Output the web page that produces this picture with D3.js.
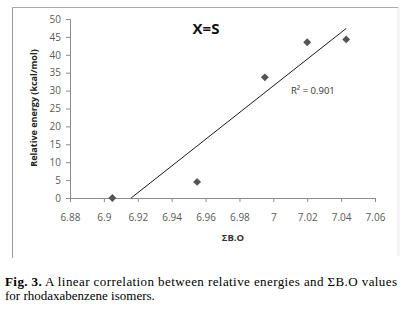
<!DOCTYPE html>
<html><head><meta charset="utf-8">
<script src="https://cdn.jsdelivr.net/npm/d3@7"></script>
<style>body{margin:0;background:#fff}svg{display:block}</style>
</head><body>
<script>
const xValues = [6.905, 6.955, 6.995, 7.020, 7.043];
const yValues = [0, 4.5, 33.7, 43.5, 44.3];
const xTicks = [6.88, 6.9, 6.92, 6.94, 6.96, 6.98, 7, 7.02, 7.04, 7.06];
const yTicks = [0, 5, 10, 15, 20, 25, 30, 35, 40, 45, 50];
const chartTitle = "X=S";
const xTitle = "ΣB.O";
const yTitle = "Relative energy (kcal/mol)";
const r2Label = "R² = 0.901";

const W = 410, H = 309;
const svg = d3.select("body").append("svg").attr("width", W).attr("height", H);

// frame
svg.append("rect").attr("x", 397).attr("y", 7).attr("width", 3).attr("height", 249).attr("fill", "#f4f4f4");
svg.append("line").attr("x1", 12.5).attr("x2", 12.5).attr("y1", 7).attr("y2", 258).attr("stroke", "#999");
svg.append("line").attr("x1", 12).attr("x2", 398).attr("y1", 7.5).attr("y2", 7.5).attr("stroke", "#aaa");

const x = d3.scaleLinear().domain([6.88, 7.06]).range([70, 375]);
const y = d3.scaleLinear().domain([0, 50]).range([198, 19]);

const gx = svg.append("g").attr("transform", "translate(0,198)")
  .call(d3.axisBottom(x).tickValues(xTicks).tickFormat(d => String(+d.toFixed(2))).tickSizeOuter(0).tickSize(4));
const gy = svg.append("g").attr("transform", "translate(70,0)")
  .call(d3.axisLeft(y).tickValues(yTicks).tickSizeOuter(0).tickSize(4));
[gx, gy].forEach(g => {
  g.select(".domain").attr("stroke", "#8c8c8c");
  g.selectAll(".tick line").attr("stroke", "#8c8c8c");
  g.selectAll(".tick text").attr("fill", "#595959").attr("font-family", "Open Sans, sans-serif").attr("font-size", 10);
});
gx.selectAll(".tick text").attr("dy", "1.6em");
gy.selectAll(".tick text").attr("dx", "-2");

// trendline (least squares), clipped to y >= 0
const n = xValues.length;
const mx = d3.mean(xValues), my = d3.mean(yValues);
let sxy = 0, sxx = 0;
for (let i = 0; i < n; i++) { sxy += (xValues[i]-mx)*(yValues[i]-my); sxx += (xValues[i]-mx)**2; }
const slope = sxy / sxx, icpt = my - slope*mx;
const xmax = d3.max(xValues);
const x0 = Math.max(d3.min(xValues), -icpt/slope);
svg.append("line")
  .attr("x1", x(x0)).attr("y1", y(slope*x0+icpt))
  .attr("x2", x(xmax)).attr("y2", y(slope*xmax+icpt))
  .attr("stroke", "#000").attr("stroke-width", 0.9);

// points
svg.append("g").selectAll("path").data(xValues.map((v,i)=>[v,yValues[i]])).join("path")
  .attr("transform", d => `translate(${x(d[0])},${y(d[1])})`)
  .attr("d", d3.symbol(d3.symbolDiamond2, 40))
  .attr("fill", "#555");

// texts
svg.append("text").attr("x", 206).attr("y", 34).attr("text-anchor", "middle")
  .attr("font-family", "Open Sans, sans-serif").attr("font-weight", "bold").attr("font-size", 15).attr("fill", "#111").text(chartTitle);
svg.append("text").attr("x", 291).attr("y", 94)
  .attr("font-family", "Open Sans, sans-serif").attr("font-size", 9.5).attr("fill", "#333").text(r2Label);
svg.append("text").attr("x", 233).attr("y", 241).attr("text-anchor", "middle")
  .attr("font-family", "Open Sans, sans-serif").attr("font-weight", "bold").attr("font-size", 9.5).attr("fill", "#333").text(xTitle);
svg.append("text").attr("transform", "translate(37,108) rotate(-90)").attr("text-anchor", "middle")
  .attr("font-family", "Open Sans, sans-serif").attr("font-weight", "bold").attr("font-size", 9).attr("fill", "#222").text(yTitle);

// caption
const c1 = svg.append("text").attr("x", 5).attr("y", 286)
  .attr("font-family", "Liberation Serif, serif").attr("font-size", 13).attr("fill", "#000")
  .attr("textLength", 392).attr("lengthAdjust", "spacing");
c1.append("tspan").attr("font-weight", "bold").text("Fig. 3.");
c1.append("tspan").text(" A linear correlation between relative energies and ΣB.O values");
svg.append("text").attr("x", 5).attr("y", 300)
  .attr("font-family", "Liberation Serif, serif").attr("font-size", 13).attr("fill", "#000")
  .text("for rhodaxabenzene isomers.");
</script>
</body></html>
